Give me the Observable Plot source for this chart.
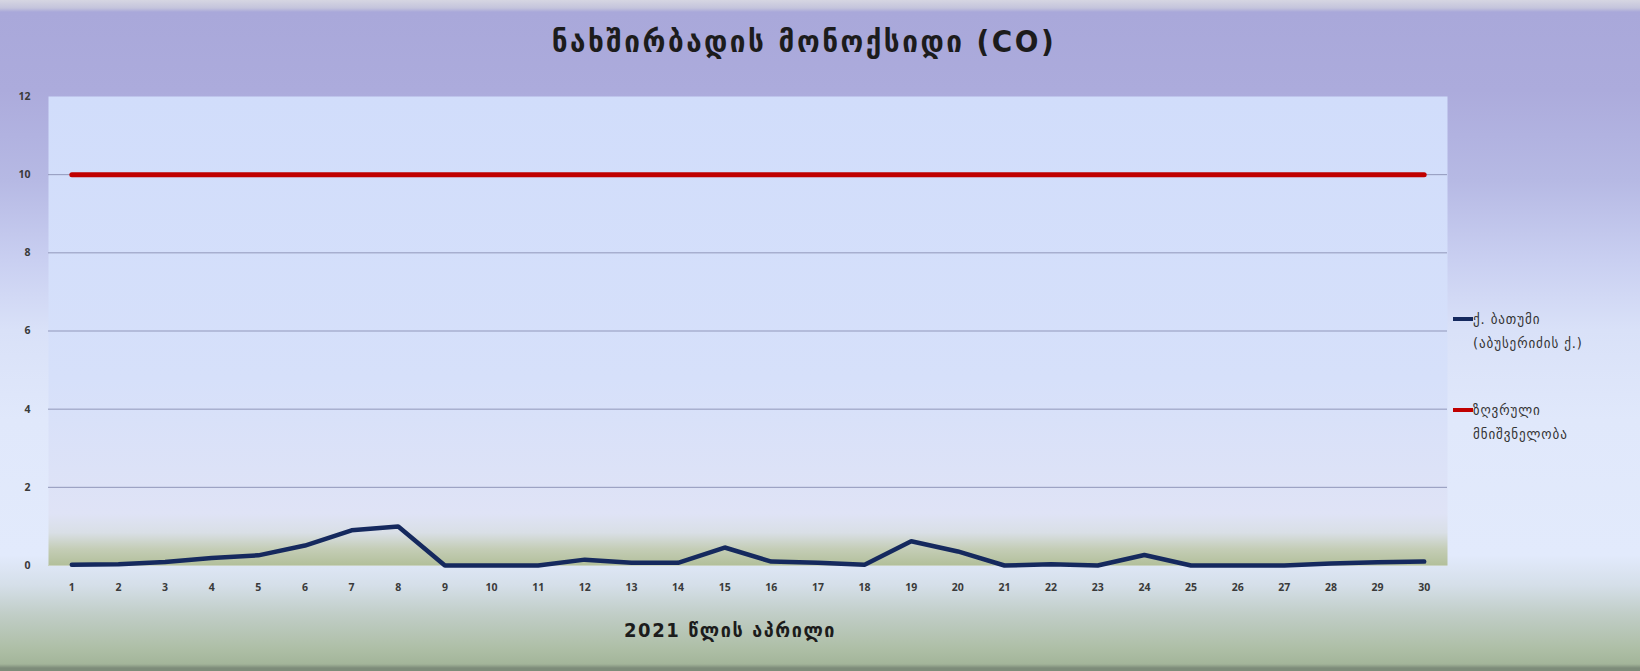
<!DOCTYPE html>
<html>
<head>
<meta charset="utf-8">
<script src="https://cdn.jsdelivr.net/npm/d3@7"></script>
<script src="https://cdn.jsdelivr.net/npm/@observablehq/plot@0.6"></script>
<style>
  html, body { margin: 0; padding: 0; }
  #chart {
    position: relative;
    width: 1640px;
    height: 671px;
    overflow: hidden;
    font-family: "DejaVu Sans", sans-serif;
    background: linear-gradient(to bottom,
      #d6d6e2 0px, #c4c4dc 8px, #a9a8da 12px, #acabdc 90px,
      #b6b9e4 180px, #c9cff1 260px, #d9e1f8 330px, #e0e8fb 420px,
      #e2eafc 555px, #d5dfe9 585px, #c0cdc6 615px, #adbea5 650px,
      #a3b59a 664px, #7d8c7a 668px, #7d8c7a 671px);
  }
  #chart svg { position: absolute; left: 0; top: 0; background: transparent; }
  .title {
    position: absolute; left: 0; width: 1608px; top: 23px;
    text-align: center; font-weight: bold; font-size: 31px; letter-spacing: 2.5px;
    color: #1c1c1c;
    font-family: "DejaVu Sans Condensed", "DejaVu Sans", sans-serif;
  }
  .xtitle {
    position: absolute; left: 580px; width: 300px; top: 618px;
    text-align: center; font-weight: bold; font-size: 20px; letter-spacing: 1.6px;
    color: #1c1c1c;
    font-family: "DejaVu Sans Condensed", "DejaVu Sans", sans-serif;
  }
  .legend { position: absolute; left: 1453px; font-size: 14.5px; letter-spacing: 0.9px; color: #333;
    font-family: "DejaVu Sans Condensed", "DejaVu Sans", sans-serif; line-height: 24px; }
  .legend .sw { position: absolute; left: 0; top: 10px; width: 20px; height: 4px; }
  .legend .txt { position: absolute; left: 20px; top: 0; white-space: nowrap; }
</style>
</head>
<body>
<div id="chart">
  <div class="title">ნახშირბადის მონოქსიდი (CO)</div>
  <div class="xtitle">2021 წლის აპრილი</div>
</div>
<script>
// Days of April 2021
const days = d3.range(1, 31);
// Daily CO concentration, Batumi (Abuserizde st.)
const coValues = [0.02, 0.03, 0.09, 0.19, 0.26, 0.51, 0.9, 1.0, 0, 0,
                  0, 0.15, 0.07, 0.07, 0.46, 0.1, 0.07, 0.02, 0.62, 0.36,
                  0, 0.03, 0, 0.27, 0, 0, 0, 0.05, 0.08, 0.1];
// Limit value
const limitValue = 10;
const yTicks = [0, 2, 4, 6, 8, 10, 12];
const seriesNames = ["ქ. ბათუმი\n(აბუსერიძის ქ.)", "ზღვრული\nმნიშვნელობა"];
const seriesColors = ["#15295e", "#c00000"];

const coData = days.map((d, i) => ({day: d, value: coValues[i]}));
const limitData = days.map(d => ({day: d, value: limitValue}));

const chart = Plot.plot({
  width: 1640,
  height: 671,
  marginLeft: 48,
  marginRight: 193,
  marginTop: 96,
  marginBottom: 106,
  style: {background: "transparent", overflow: "visible"},
  x: {type: "point", domain: days, padding: 0.5, round: false},
  y: {domain: [0, 12]},
  marks: [
    Plot.frame({fill: "url(#plotBg)", stroke: null}),
    Plot.gridY([2, 4, 6, 8, 10], {stroke: "#9197ba", strokeOpacity: 1, strokeWidth: 1}),
    Plot.ruleY([0], {stroke: "#c9d2c0", strokeWidth: 1}),
    Plot.axisY(yTicks, {tickSize: 0, tickPadding: 18, fontSize: 10.5, fontWeight: "bold",
      fill: "#3a3a3a", label: null}),
    Plot.axisX(days, {tickSize: 0, tickPadding: 18, fontSize: 10.5, fontWeight: "bold",
      fill: "#3a3a3a", label: null}),
    Plot.line(limitData, {x: "day", y: "value", stroke: seriesColors[1], strokeWidth: 5}),
    Plot.line(coData, {x: "day", y: "value", stroke: seriesColors[0], strokeWidth: 4.5,
      strokeLinejoin: "miter"})
  ]
});

d3.select(chart).insert("defs", ":first-child").html(`
  <linearGradient id="plotBg" x1="0" y1="0" x2="0" y2="1">
    <stop offset="0" stop-color="#d1ddfb"/>
    <stop offset="0.6" stop-color="#d6e0fa"/>
    <stop offset="0.89" stop-color="#dfe3f6"/>
    <stop offset="0.93" stop-color="#d9dfe6"/>
    <stop offset="0.965" stop-color="#c4cdb6"/>
    <stop offset="1" stop-color="#b2bf9a"/>
  </linearGradient>`);

const root = document.getElementById("chart");
root.insertBefore(chart, root.firstChild);

// Legend
const legendTops = [307, 398];
seriesNames.forEach((name, i) => {
  const item = document.createElement("div");
  item.className = "legend";
  item.style.top = legendTops[i] + "px";
  const sw = document.createElement("div");
  sw.className = "sw";
  sw.style.background = seriesColors[i];
  const txt = document.createElement("div");
  txt.className = "txt";
  txt.innerHTML = name.split("\n").join("<br>");
  item.appendChild(sw);
  item.appendChild(txt);
  root.appendChild(item);
});
</script>
</body>
</html>
